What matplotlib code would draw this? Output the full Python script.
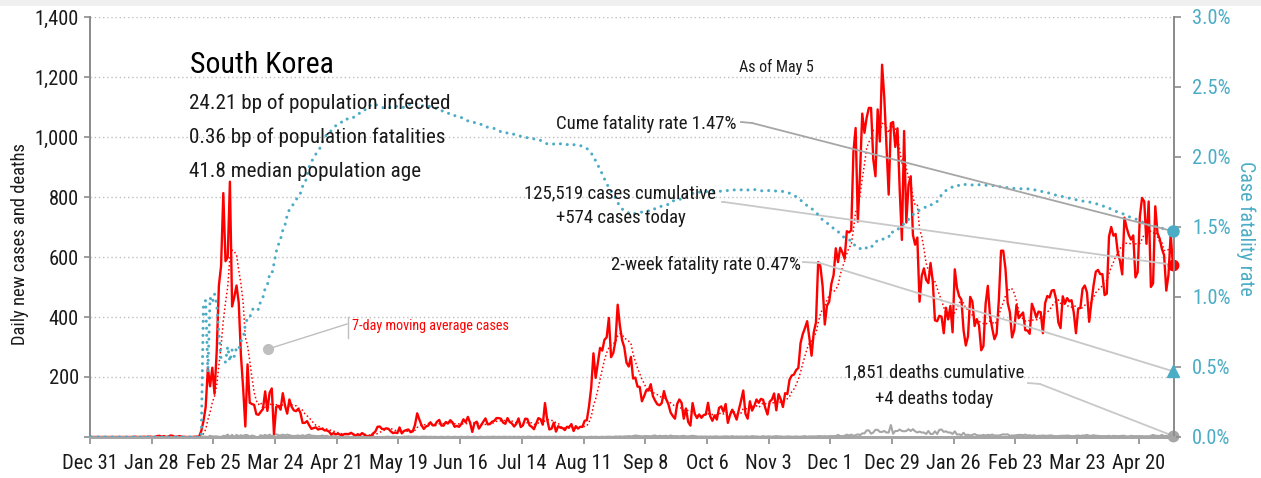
import numpy as np
import pandas as pd
import matplotlib
matplotlib.use("Agg")
import matplotlib.pyplot as plt
from matplotlib import font_manager
from matplotlib.lines import Line2D
from matplotlib.patches import Rectangle
from matplotlib.ticker import FixedLocator, FuncFormatter

W, H, DPI = 1261, 478, 100


def first_installed(families):
    have = {f.name for f in font_manager.fontManager.ttflist}
    for fam in families:
        if fam in have:
            return fam
    return "DejaVu Sans"


narrow = first_installed(["Liberation Sans Narrow", "Roboto Condensed",
                          "Open Sans Condensed", "Liberation Sans"])
plt.rcParams["font.family"] = [narrow, "DejaVu Sans"]

# ---------------------------------------------------------------- data
start_date = "2019-12-31"

cases_2019_dec = [0]
cases_2020_jan = [0, 0, 0, 0, 0, 0, 0, 0, 0, 0, 0, 0, 0, 0, 0, 0, 0, 0, 0,
                  1, 0, 0, 0, 1, 0, 1, 1, 0, 0, 3, 4]
cases_2020_feb = [1, 3, 0, 1, 5, 4, 0, 0, 3, 1, 0, 0, 0, 0, 0, 1, 1, 1, 20, 53,
                  100, 229, 169, 231, 144, 284, 505, 571, 813]
cases_2020_mar = [586, 599, 851, 435, 467, 505, 448, 273, 164, 35, 242, 114, 110,
                  107, 76, 74, 84, 93, 152, 87, 147, 162, 10, 100, 104, 91, 146,
                  105, 78, 125, 101]
cases_2020_apr = [89, 86, 94, 81, 47, 47, 53, 39, 27, 30, 32, 25, 27, 27, 22, 22,
                  18, 8, 13, 9, 11, 8, 6, 10, 10, 10, 14, 9, 4, 9]
cases_2020_may = [6, 13, 8, 3, 2, 4, 12, 18, 34, 35, 27, 26, 29, 27, 19, 13, 15,
                  13, 32, 12, 20, 23, 25, 16, 19, 40, 79, 58, 39, 27, 35]
cases_2020_jun = [38, 49, 39, 39, 51, 57, 38, 38, 50, 45, 56, 49, 34, 37, 34, 43,
                  59, 49, 67, 48, 17, 46, 51, 28, 39, 51, 62, 42, 43, 51]
cases_2020_jul = [54, 63, 63, 61, 48, 44, 63, 50, 45, 35, 44, 62, 33, 39, 61, 60,
                  39, 34, 26, 45, 63, 59, 41, 113, 58, 25, 28, 48, 18, 36, 31]
cases_2020_aug = [30, 23, 34, 33, 43, 20, 36, 28, 34, 34, 54, 56, 103, 166, 279,
                  197, 246, 297, 288, 324, 332, 397, 266, 280, 320, 441, 371, 323,
                  299, 248, 235]
cases_2020_sep = [267, 195, 198, 168, 167, 119, 136, 156, 155, 176, 136, 121, 109,
                  106, 113, 153, 126, 110, 82, 70, 61, 110, 125, 114, 61, 95, 50,
                  38, 113, 77]
cases_2020_oct = [63, 75, 64, 73, 75, 114, 69, 54, 72, 58, 97, 102, 84, 110, 47,
                  73, 91, 76, 58, 91, 121, 155, 77, 61, 119, 88, 103, 125, 114,
                  127, 124]
cases_2020_nov = [97, 75, 118, 125, 145, 89, 143, 126, 100, 146, 143, 191, 205,
                  208, 223, 230, 313, 343, 363, 386, 330, 271, 349, 382, 583, 569,
                  504, 375, 438, 451]
cases_2020_dec = [511, 540, 629, 583, 631, 615, 594, 686, 682, 689, 950, 1030, 718,
                  880, 1078, 1014, 1064, 1097, 1097, 926, 869, 1092, 985, 1241,
                  1132, 970, 808, 1046, 1050, 967, 1029]
cases_2021_jan = [824, 657, 1020, 715, 840, 869, 674, 641, 665, 451, 537, 562, 524,
                  513, 580, 520, 389, 386, 404, 401, 346, 431, 392, 437, 349, 559,
                  497, 469, 458, 355, 305]
cases_2021_feb = [336, 467, 451, 370, 393, 372, 289, 303, 444, 504, 403, 362, 326,
                  344, 457, 621, 621, 561, 448, 416, 332, 357, 440, 396, 406, 415,
                  356, 355]
cases_2021_mar = [344, 444, 424, 398, 418, 416, 346, 446, 470, 465, 488, 490, 459,
                  382, 363, 469, 445, 463, 452, 456, 415, 346, 428, 430, 494, 505,
                  482, 384, 447, 506, 551]
cases_2021_apr = [557, 543, 543, 473, 478, 668, 700, 671, 677, 614, 587, 542, 731,
                  698, 673, 658, 672, 532, 549, 735, 797, 785, 644, 785, 500, 512,
                  769, 680, 661, 627]
cases_2021_may = [606, 488, 541, 676, 574]

deaths_2019_dec = [0]
deaths_2020_jan = [0] * 31
deaths_2020_feb = [0, 0, 0, 0, 0, 0, 0, 0, 0, 0, 0, 0, 0, 0, 0, 0, 0, 0, 0,
                   1, 1, 0, 4, 2, 2, 2, 1, 0, 4]
deaths_2020_mar = [3, 8, 0, 7, 0, 7, 2, 6, 3, 7, 6, 1, 5, 3, 0, 0, 6, 3, 7, 3, 8,
                   2, 7, 9, 6, 5, 8, 5, 8, 6, 4]
deaths_2020_apr = [3, 4, 5, 3, 6, 3, 6, 8, 4, 4, 3, 3, 3, 5, 3, 4, 1, 2, 2, 2, 1,
                   1, 2, 0, 2, 1, 0, 1, 2, 1]
deaths_2020_may = [1, 1, 2, 0, 2, 2, 1, 0, 0, 0, 0, 0, 1, 1, 0, 1, 1, 0, 0, 0, 1,
                   1, 2, 1, 1, 1, 1, 0, 1, 1, 1]
deaths_2020_jun = [0, 1, 0, 1, 0, 0, 1, 0, 0, 1, 0, 0, 1, 0, 0, 1, 0, 0, 1, 0, 0,
                   1, 0, 0, 1, 0, 0, 1, 0, 1]
deaths_2020_jul = [1, 0, 1, 0, 1, 1, 0, 1, 0, 1, 0, 1, 0, 1, 0, 1, 1, 0, 0, 1, 0,
                   1, 0, 1, 0, 1, 0, 1, 1, 0, 1]
deaths_2020_aug = [0, 1, 0, 1, 0, 1, 0, 0, 1, 0, 0, 0, 0, 1, 0, 1, 0, 0, 1, 0, 1,
                   1, 1, 0, 2, 1, 2, 1, 2, 2, 3]
deaths_2020_sep = [2, 3, 5, 4, 3, 2, 3, 3, 3, 2, 4, 5, 2, 4, 3, 3, 4, 2, 5, 3, 3,
                   3, 2, 3, 4, 2, 2, 3, 4, 3]
deaths_2020_oct = [2, 1, 2, 1, 2, 1, 2, 1, 2, 2, 1, 1, 2, 2, 2, 1, 3, 1, 2, 1, 2,
                   1, 2, 2, 1, 3, 2, 2, 1, 1, 3]
deaths_2020_nov = [1, 2, 2, 1, 2, 3, 2, 2, 1, 1, 2, 2, 1, 1, 2, 1, 1, 2, 3, 1, 2,
                   2, 2, 2, 3, 3, 2, 3, 2, 3]
deaths_2020_dec = [3, 3, 3, 7, 3, 3, 4, 8, 5, 8, 4, 6, 9, 6, 12, 12, 22, 22, 11,
                   15, 24, 24, 17, 17, 20, 15, 15, 40, 11, 20, 20]
deaths_2021_jan = [25, 20, 19, 20, 26, 20, 26, 19, 15, 18, 15, 15, 10, 20, 10, 10,
                   19, 10, 24, 25, 17, 19, 15, 15, 10, 19, 8, 9, 6, 14, 5]
deaths_2021_feb = [8, 5, 7, 10, 6, 5, 5, 7, 5, 7, 6, 8, 5, 5, 5, 7, 9, 8, 9, 4, 5,
                   5, 6, 7, 7, 6, 8, 5]
deaths_2021_mar = [6, 4, 6, 3, 4, 4, 5, 4, 4, 5, 5, 3, 3, 3, 4, 4, 4, 5, 4, 3, 3,
                   4, 5, 3, 5, 5, 7, 4, 4, 6, 4]
deaths_2021_apr = [4, 3, 3, 3, 3, 4, 2, 4, 3, 3, 3, 4, 4, 2, 2, 4, 3, 3, 3, 3, 3,
                   2, 3, 2, 4, 7, 4, 4, 3, 7]
deaths_2021_may = [3, 4, 3, 5, 4]

country = "South Korea"
pop_infected_bp = "24.21"
pop_fatalities_bp = "0.36"
median_age = "41.8"
as_of = "May 5"
cume_cfr_pct = 1.47
two_week_cfr_pct = 0.47
total_cases = 125519
total_deaths = 1851

# ---------------------------------------------------------------- series
cases = np.array(cases_2019_dec + cases_2020_jan + cases_2020_feb + cases_2020_mar
                 + cases_2020_apr + cases_2020_may + cases_2020_jun + cases_2020_jul
                 + cases_2020_aug + cases_2020_sep + cases_2020_oct + cases_2020_nov
                 + cases_2020_dec + cases_2021_jan + cases_2021_feb + cases_2021_mar
                 + cases_2021_apr + cases_2021_may, dtype=float)
deaths = np.array(deaths_2019_dec + deaths_2020_jan + deaths_2020_feb + deaths_2020_mar
                  + deaths_2020_apr + deaths_2020_may + deaths_2020_jun + deaths_2020_jul
                  + deaths_2020_aug + deaths_2020_sep + deaths_2020_oct + deaths_2020_nov
                  + deaths_2020_dec + deaths_2021_jan + deaths_2021_feb + deaths_2021_mar
                  + deaths_2021_apr + deaths_2021_may, dtype=float)

n_days = len(cases)
x = np.arange(n_days) + 0.5          # each day centred in its slot
ma7 = pd.Series(cases).rolling(7).mean().to_numpy()
cum_cases = np.cumsum(cases)
cum_deaths = np.cumsum(deaths)
cfr = np.where(cum_cases > 0, cum_deaths / np.maximum(cum_cases, 1), 0.0)

RED = "#FF0000"
BLUE = "#4BACC6"
GREY = "#A6A6A6"
LIGHT = "#C8C8C8"
TXT = "#1A1A1A"

TICK_FS = 14.8
NOTE_FS = 13.5
STAT_FS = 15.2

# ---------------------------------------------------------------- figure
fig = plt.figure(figsize=(W / DPI, H / DPI), dpi=DPI)
fig.patches.append(Rectangle((0, 1 - 6 / H), 1, 6 / H, transform=fig.transFigure,
                             facecolor="#F0F0F0", edgecolor="none"))

ax = fig.add_axes([90 / W, 1 - 437 / H, (1174 - 90) / W, (437 - 17) / H])
ax2 = ax.twinx()
ax.set_zorder(1)
ax2.set_zorder(2)
ax.patch.set_visible(False)
ax2.patch.set_visible(False)

ax.plot(x, deaths, color=GREY, lw=1.5, zorder=2)
ax.plot(x, cases, color=RED, lw=1.7, zorder=3, solid_joinstyle="round")
ax.plot(x, ma7, color=RED, lw=1.1, ls=(0, (1, 1.6)), zorder=4)
ax2.plot(x, cfr, color=BLUE, lw=2.2, ls=(0, (0.01, 2.3)),
         dash_capstyle="round", zorder=3)

ax.set_xlim(0, n_days)
ax.set_ylim(0, 1400)
ax2.set_ylim(0, 0.03)

# x ticks every four weeks
tick_days = np.arange(0, n_days, 28)
tick_dates = pd.Timestamp(start_date) + pd.to_timedelta(tick_days, unit="D")
ax.xaxis.set_major_locator(FixedLocator(tick_days))
ax.set_xticklabels([f"{d:%b} {d.day}" for d in tick_dates])

ax.yaxis.set_major_locator(FixedLocator(np.arange(0, 1401, 200)))
ax.yaxis.set_major_formatter(FuncFormatter(lambda v, p: "" if v == 0 else f"{v:,.0f}"))
ax2.yaxis.set_major_locator(FixedLocator(np.arange(0, 0.0301, 0.005)))
ax2.yaxis.set_major_formatter(FuncFormatter(lambda v, p: f"{v * 100:.1f}%"))

ax.tick_params(axis="x", direction="out", length=5, width=1.2, color="#8C8C8C",
               labelsize=TICK_FS, labelcolor=TXT, pad=7)
ax.tick_params(axis="y", direction="out", length=4, width=1.2, color="#8C8C8C",
               labelsize=TICK_FS, labelcolor=TXT, pad=4)
ax2.tick_params(axis="y", direction="out", length=5, width=1.2, color="#8C8C8C",
                labelsize=TICK_FS, labelcolor=BLUE, pad=8)

ax.grid(axis="y", color="#BFBFBF", lw=1.0, ls=(0, (1, 2)))
ax.set_axisbelow(True)

for a in (ax, ax2):
    a.spines["top"].set_visible(False)
    a.spines["left"].set_color("#8C8C8C")
    a.spines["right"].set_color("#8C8C8C")
    a.spines["left"].set_linewidth(1.3)
    a.spines["right"].set_linewidth(1.3)
    a.spines["bottom"].set_color(GREY)
    a.spines["bottom"].set_linewidth(2.0)

fig.text(20 / W, 1 - 244 / H, "Daily new cases and deaths", rotation=90,
         ha="center", va="center", fontsize=13.3, color=TXT)
fig.text(1246 / W, 1 - 228 / H, "Case fatality rate", rotation=270,
         ha="center", va="center", fontsize=14.4, color=BLUE)

# end-of-series markers
x_end = x[-1]
ax.plot([x_end], [cases[-1]], "o", color=RED, ms=7.5, clip_on=False, zorder=8)
ax.plot([x_end], [deaths[-1]], "o", color=GREY, ms=7.5, clip_on=False, zorder=8)
ax2.plot([x_end], [cume_cfr_pct / 100], "o", color=BLUE, ms=8, clip_on=False, zorder=8)
ax2.plot([x_end], [two_week_cfr_pct / 100], "^", color=BLUE, ms=8, clip_on=False, zorder=8)


def fig_xy(px, py):
    return px / W, 1 - py / H


def leader(axis, target, start, elbow, color, lw=1.3):
    """Short horizontal stub from the label, then a straight run to the marker."""
    (x0, y0), (x1, y1) = fig_xy(*start), fig_xy(*elbow)
    fig.add_artist(Line2D([x0, x1], [y0, y1], transform=fig.transFigure,
                          color=color, lw=lw))
    axis.annotate("", xy=target, xycoords="data", xytext=(x1, y1),
                  textcoords="figure fraction", annotation_clip=False,
                  arrowprops=dict(arrowstyle="-", color=color, lw=lw,
                                  shrinkA=0, shrinkB=0), zorder=5)


leader(ax2, (x_end, cume_cfr_pct / 100), (741, 122), (752, 123), GREY)
leader(ax, (x_end, cases[-1]), (722, 202), (724, 202), LIGHT)
leader(ax2, (x_end, two_week_cfr_pct / 100), (803, 262), (820, 263), LIGHT)
leader(ax, (x_end, deaths[-1]), (1028, 383), (1040, 384), LIGHT)

# headline block
fig.text(*fig_xy(190, 73), country, fontsize=21.5, color="black", va="baseline")
fig.text(*fig_xy(189, 109), f"{pop_infected_bp} bp of population infected",
         fontsize=STAT_FS, color=TXT, va="baseline")
fig.text(*fig_xy(189, 143), f"{pop_fatalities_bp} bp of population fatalities",
         fontsize=STAT_FS, color=TXT, va="baseline")
fig.text(*fig_xy(189, 177), f"{median_age} median population age",
         fontsize=STAT_FS, color=TXT, va="baseline")

fig.text(*fig_xy(776, 72), f"As of {as_of}", fontsize=11.5, color=TXT,
         ha="center", va="baseline")
fig.text(*fig_xy(737, 129), f"Cume fatality rate {cume_cfr_pct:.2f}%",
         fontsize=NOTE_FS, color=TXT, ha="right", va="baseline")
fig.text(*fig_xy(620, 198), f"{total_cases:,} cases cumulative",
         fontsize=NOTE_FS, color=TXT, ha="center", va="baseline")
fig.text(*fig_xy(621, 223), f"+{cases[-1]:,.0f} cases today",
         fontsize=NOTE_FS, color=TXT, ha="center", va="baseline")
fig.text(*fig_xy(801, 270), f"2-week fatality rate {two_week_cfr_pct:.2f}%",
         fontsize=NOTE_FS, color=TXT, ha="right", va="baseline")
fig.text(*fig_xy(934, 377), f"{total_deaths:,} deaths cumulative",
         fontsize=NOTE_FS, color=TXT, ha="center", va="baseline")
fig.text(*fig_xy(934, 404), f"+{deaths[-1]:,.0f} deaths today",
         fontsize=NOTE_FS, color=TXT, ha="center", va="baseline")

# moving-average callout
cx, cy = fig_xy(268, 349)
fig.add_artist(Line2D([cx], [cy], transform=fig.transFigure, marker="o", ms=7,
                      color="#BFBFBF", ls="none"))
fig.add_artist(Line2D([cx, 347 / W], [cy, 1 - 324 / H], transform=fig.transFigure,
                      color="#BFBFBF", lw=1.0))
fig.add_artist(Line2D([348 / W, 348 / W], [1 - 317 / H, 1 - 338 / H],
                      transform=fig.transFigure, color="#BFBFBF", lw=1.0))
fig.text(*fig_xy(352, 330), "7-day moving average cases", fontsize=10.2,
         color=RED, va="baseline")

fig.savefig("out.png", dpi=DPI)
